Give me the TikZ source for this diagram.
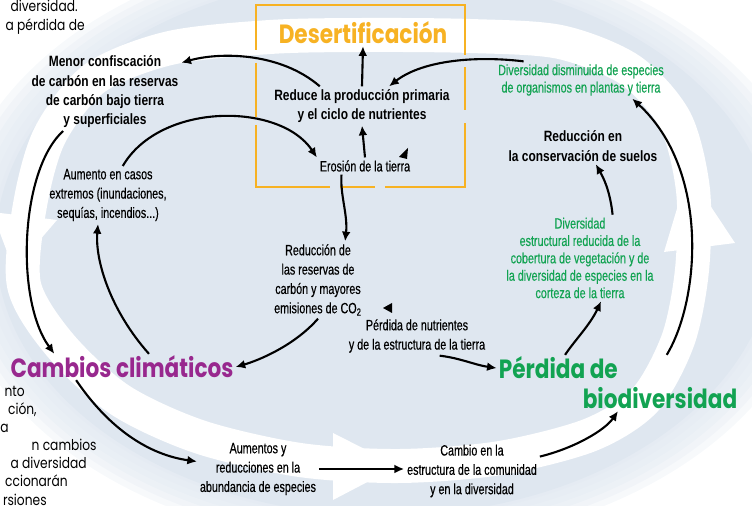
\documentclass[tikz,border=0pt]{standalone}
\usepackage{fontspec}
\usetikzlibrary{arrows.meta}
\newfontfamily\condfont[FakeStretch=0.72,FakeBold=0.4]{Liberation Sans}
\newfontfamily\condbold[FakeStretch=0.8,UprightFont=*-Bold]{Liberation Sans}
\newfontfamily\titlefont[FakeStretch=0.82]{Poppins}
\definecolor{bgblue}{RGB}{223,231,240}
\definecolor{desorange}{RGB}{247,178,35}
\definecolor{climpurple}{RGB}{152,40,142}
\definecolor{biogreen}{RGB}{18,163,82}

\begin{document}
\begin{tikzpicture}[x=0.02cm,y=-0.02cm,
txt/.style={font=\condfont\fontsize{8.5}{11}\selectfont,align=center,inner sep=1.5pt},
btxt/.style={txt,font=\condbold\fontsize{8.5}{11}\selectfont},
gtxt/.style={txt,text=biogreen,font=\condfont\fontsize{8.5}{9.9}\selectfont},
ttl/.style={font=\titlefont\bfseries\fontsize{15}{17}\selectfont,inner sep=1pt},
frag/.style={font=\titlefont\fontsize{8.5}{10}\selectfont,anchor=base east,inner sep=0pt},
arr/.style={-{Latex[length=5.5pt,width=5pt]},line width=1.2pt},
ring/.style={white,line width=0.68cm},
desbox/.style={desorange,line width=1.6pt}]

\useasboundingbox (0,0) rectangle (752,506);

% background and the big white cycle
\foreach \k in {0,...,5}
  \fill[bgblue,opacity=.25](385,245)ellipse[x radius={410*(1.06-.02*\k)},y radius={285*(1.06-.02*\k)}];
\fill[bgblue](385,245)ellipse[x radius={410*.95},y radius={285*.95}];
\draw[ring] plot[smooth cycle] coordinates {(362,35) (470,36) (560,42) (630,70) (675,120) (693,190) (692,270) (678,340) (645,400) (590,435) (500,458) (400,466) (300,460) (200,437) (120,400) (60,345) (24,285) (30,205) (50,135) (95,78) (170,48) (270,37)};
\fill[white](-8,212)--(57,220)--(14,270)--cycle;
\fill[white](333,433)--(333,500)--(398,466)--cycle;
\fill[white](664,252)--(735,243)--(688,172)--cycle;

% cut text of the page
\foreach \x/\y/\t in {78/12/diversidad., 85/31/a pérdida de, 25/397/nto, 37/415/{ción,}, 9/433/a, 97/451/n cambios, 87/469/a diversidad, 68/487/ccionarán, 47/506/rsiones}
  \node[frag]at(\x,\y){\t};

% desertificacion box
\draw[desbox](256,50)--(256,5)--(465,5)--(465,55);
\draw[desbox](256,63)--(256,117);
\draw[desbox](256,125)--(256,187)--(330,187);
\draw[desbox](340,187)--(375,187);
\draw[desbox](385,187)--(465,187)--(465,123);
\draw[desbox](465,110)--(465,67);

\node[ttl,text=desorange](desert)at(363,33){Desertificación};
\node[btxt](reduce)at(362,106){Reduce la producción primaria\\y el ciclo de nutrientes};
\node[txt](erosion)at(365,166){Erosión de la tierra};
\node[btxt](menor)at(105,92){Menor confiscación\\de carbón en las reservas\\de carbón bajo tierra\\y superficiales};
\node[txt](extremos)at(108,195){Aumento en casos\\extremos (inundaciones,\\sequías, incendios...)};
\node[txt](reservas)at(318,280){Reducción de\\las reservas de\\carbón y mayores\\emisiones de CO\textsubscript{2}};
\node[txt](nutrientes)at(417,336){Pérdida de nutrientes\\y de la estructura de la tierra};
\node[gtxt](disminuida)at(581,80){Diversidad disminuida de especies\\de organismos en plantas y tierra};
\node[btxt](suelos)at(583,146){Reducción en\\la conservación de suelos};
\node[gtxt](estructural)at(580,258){Diversidad\\estructural reducida de la\\cobertura de vegetación y de\\la diversidad de especies en la\\corteza de la tierra};
\node[ttl,text=climpurple](clima)at(122,367){Cambios climáticos};
\node[ttl,text=biogreen,align=left](bio)at(618,383){Pérdida de\\\hspace*{1.68cm}biodiversidad};
\node[txt](abundancia)at(258,469){Aumentos y\\reducciones en la\\abundancia de especies};
\node[txt](comunidad)at(472,471){Cambio en la\\estructura de la comunidad\\y en la diversidad};

\draw[arr](reduce.north)--(desert.south);
\draw[arr](erosion.north)--(reduce.south);
\draw[arr](reduce.155)..controls(280,52)and(220,52)..(menor.21);
\draw[arr](disminuida.162)..controls(470,55)and(420,62)..(reduce.36);
\draw[arr](extremos.63)..controls(160,102)and(280,102)..(erosion.170);
\draw[arr](erosion.200)..controls(340,195)and(348,215)..(reservas.55);
\draw[arr](reservas.south)..controls(295,345)and(260,360)..(clima.east);
\draw[arr](clima.26)..controls(110,310)and(95,260)..(extremos.251);
\draw[arr](menor.223)..controls(20,170)and(15,300)..(clima.169);
\draw[arr](clima.196)..controls(110,430)and(150,455)..(abundancia.173);
\draw[arr](abundancia.east)--(abundancia.east-|comunidad.west);
\draw[arr](comunidad.12)..controls(575,448)and(605,430)..(bio.south);
\draw[arr](nutrientes.-41)..controls(460,358)and(475,365)..(bio.173);
\draw[arr](bio.152)..controls(575,340)and(590,325)..(estructural.-64);
\draw[arr](estructural.53)..controls(610,190)and(603,177)..(suelos.-55);
\draw[arr](bio.30)..controls(700,300)and(710,170)..(disminuida.340);
% loose tips
\fill(408,148)--(399,157)--(407,159)--cycle;
\fill(383,308)--(392,303)--(392,313)--cycle;
\end{tikzpicture}
\end{document}
